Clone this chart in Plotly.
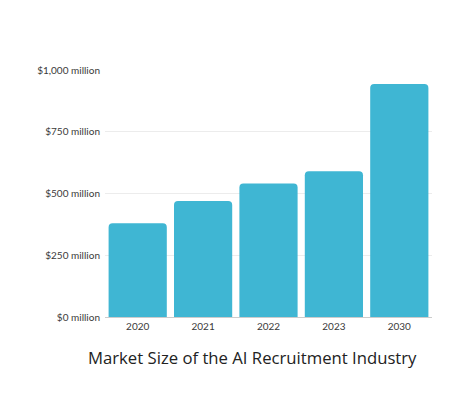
import plotly.graph_objects as go

years = ["2020", "2021", "2022", "2023", "2030"]
market_size = [380, 470, 540, 590, 943]
y_ticks = [0, 250, 500, 750, 1000]
y_tick_labels = ["$0 million", "$250 million", "$500 million", "$750 million", "$1,000 million"]
title_text = "Market Size of the AI Recruitment Industry"

fig = go.Figure(go.Bar(
    x=years, y=market_size,
    marker=dict(color="#3FB6D3", line=dict(width=0), cornerradius=4),
    hoverinfo="skip",
))

fig.update_layout(
    width=474, height=397,
    margin=dict(l=97, r=50, t=62, b=88),
    paper_bgcolor="white", plot_bgcolor="white",
    bargap=0.11,
    showlegend=False,
    font=dict(family="Lato", color="#3a3a3a", size=10),
    xaxis=dict(
        showgrid=False, showline=True, linecolor="#cccccc", linewidth=1,
        ticks="", tickfont=dict(size=10, color="#3a3a3a"),
    ),
    yaxis=dict(
        range=[0, 1000], tickvals=y_ticks, ticktext=y_tick_labels,
        showgrid=True, gridcolor="#ececec", gridwidth=1,
        zeroline=False, showline=False, ticks="",
        tickfont=dict(size=10, color="#3a3a3a"), ticklabelstandoff=4,
    ),
    annotations=[dict(
        text=title_text, xref="paper", yref="paper", x=0.45, y=-0.162,
        xanchor="center", yanchor="middle", showarrow=False,
        font=dict(family="Open Sans", size=16.7, color="#222"),
    )],
)

fig.write_html("out.html")
